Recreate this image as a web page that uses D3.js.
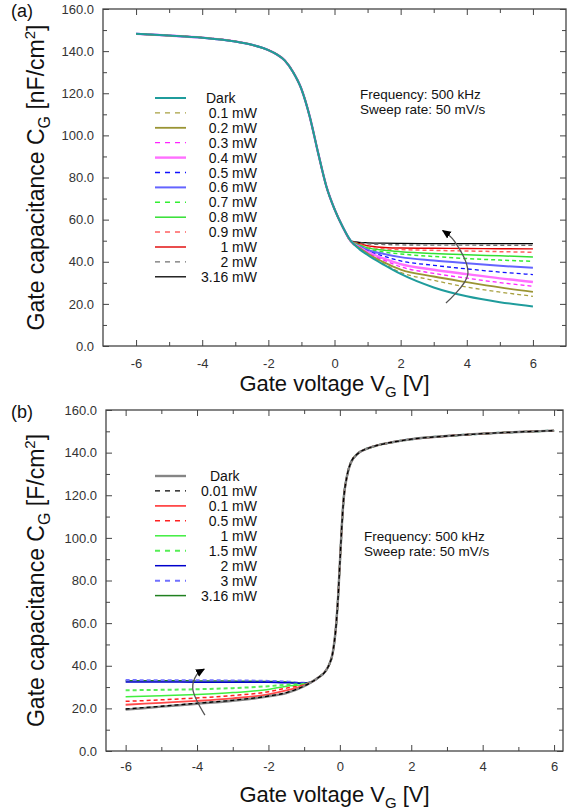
<!DOCTYPE html>
<html><head><meta charset="utf-8">
<script src="https://cdn.jsdelivr.net/npm/d3@7"></script>
<style>
body{margin:0;background:#fff;}
svg{display:block;font-family:"Liberation Sans",Arial,sans-serif;}
</style></head>
<body><svg id="c" width="582" height="810"></svg>
<script>
// ---------- Panel (a) data ----------
const aLabels = ["Dark","0.1 mW","0.2 mW","0.3 mW","0.4 mW","0.5 mW","0.6 mW","0.7 mW","0.8 mW","0.9 mW","1 mW","2 mW","3.16 mW"];
const aColors = ["#1f9c9c","#a8a040","#9a9433","#ff22ff","#ff70ff","#1010ff","#6464ff","#33ee33","#33e033","#ff6060","#e00000","#707070","#000000"];
const aDashed = [false,true,false,true,false,true,false,true,false,true,false,true,false];
const aWidths = [2,1.3,1.8,1.3,2.4,1.3,2,1.5,1.5,1.5,1.4,1.4,1.3];
// shared left branch (all powers coincide)
const aXLeft = [-6,-5,-4,-3,-2.5,-2,-1.75,-1.5,-1.25,-1,-0.75,-0.5,-0.25,0,0.25];
const aCLeft = [148.2,147.4,146.4,144.6,143,140.5,138.5,135.5,130,122,109,92,76,65,56.5];
// right branch per series
const aXRight = [0.5,0.75,1,1.5,2,3,4,5,6];
const aDark  = [49.8,46.0,43.2,38.5,34.2,27.8,23.6,20.8,18.8];
const a01mW  = [49.6,46.5,43.6,39.0,35.0,31.2,28.0,25.6,23.6];
const a02mW  = [49.6,46.6,43.9,39.7,36.3,33.0,30.3,27.8,25.7];
const a03mW  = [49.6,46.8,44.2,40.7,37.6,34.5,32.2,30.1,28.4];
const a04mW  = [49.6,46.9,44.6,41.5,38.9,36.2,34.1,32.1,30.4];
const a05mW  = [49.7,47.1,45.1,42.6,40.4,38.3,36.6,35.1,33.9];
const a06mW  = [49.7,47.4,45.6,43.7,42.2,40.6,39.3,38.1,37.1];
const a07mW  = [49.7,47.7,46.1,44.6,43.7,42.5,41.5,40.8,40.2];
const a08mW  = [49.8,48.0,46.6,45.5,44.8,43.9,43.3,42.8,42.3];
const a09mW  = [49.8,48.3,47.1,46.2,45.8,45.4,45.1,44.8,44.5];
const a1mW   = [49.8,48.6,47.6,46.8,46.5,46.4,46.3,46.2,46.1];
const a2mW   = [49.8,49.0,48.5,48.2,48.0,47.9,47.9,47.8,47.8];
const a316mW = [49.8,49.2,49.0,48.8,48.7,48.6,48.6,48.6,48.6];
const aRight = [aDark,a01mW,a02mW,a03mW,a04mW,a05mW,a06mW,a07mW,a08mW,a09mW,a1mW,a2mW,a316mW];

// ---------- Panel (b) data ----------
const bLabels = ["Dark","0.01 mW","0.1 mW","0.5 mW","1 mW","1.5 mW","2 mW","3 mW","3.16 mW"];
const bColors = ["#858585","#000000","#ff4a4a","#ff2020","#40ee40","#55ee55","#0000cc","#7070ff","#208020"];
const bDashed = [false,true,false,true,false,true,false,true,false];
const bWidths = [2.4,1.3,1.8,1.5,1.5,2,1.5,2,1.5];
const bXLeft = [-6,-5,-4,-3,-2,-1.5,-1];
const bDark  = [19.4,20.8,22.2,23.6,25.6,27.2,30.4];
const b001mW = [19.7,21.0,22.4,23.8,25.8,27.4,30.5];
const b01mW  = [21.7,22.6,23.5,24.7,26.6,28.4,30.8];
const b05mW  = [23.3,24.0,24.9,26.0,27.8,29.5,31.1];
const b1mW   = [25.4,25.9,26.5,27.4,28.9,30.4,31.3];
const b15mW  = [28.5,28.7,29.0,29.5,30.4,31.1,31.5];
const b2mW   = [32.4,32.4,32.3,32.3,32.2,32.0,31.8];
const b3mW   = [33.3,33.2,33.2,33.1,32.9,32.6,32.0];
const b316mW = [33.0,33.0,32.9,32.8,32.6,32.4,31.9];
const bLeft = [bDark,b001mW,b01mW,b05mW,b1mW,b15mW,b2mW,b3mW,b316mW];
// shared right branch
const bXRight = [-0.8,-0.6,-0.4,-0.3,-0.2,-0.1,-0.05,0,0.05,0.1,0.2,0.3,0.5,0.75,1,1.5,2,3,4,5,6];
const bCRight = [32.3,34.5,37.5,40.5,46,60,72,88,104,117,129,135,139.5,141.8,143.2,145,146.3,147.8,148.9,149.7,150.3];

// ticks
const yMajor = [0,20,40,60,80,100,120,140,160];
const yMinor = [10,30,50,70,90,110,130,150];
const xMajor = [-6,-4,-2,0,2,4,6];
const xMinor = [-5,-3,-1,1,3,5];

// annotation arrows (data coordinates)
const aArrow = [[3.37,20.4],[4.03,33.9],[3.63,49.7],[3.27,54.8]];
const bArrow = [[-3.78,16.8],[-4.12,29.2],[-4.02,35.5],[-3.80,38.4]];

const svg = d3.select("#c");
const defs = svg.append("defs");
defs.append("marker").attr("id","ah").attr("viewBox","0 0 10 10").attr("refX",9).attr("refY",5)
  .attr("markerWidth",9).attr("markerHeight",9).attr("markerUnits","userSpaceOnUse").attr("orient","auto")
  .append("path").attr("d","M0,0.5 L10,5 L0,9.5 Z").attr("fill","#000");

function panel(cfg){
  const g = svg.append("g");
  const x = d3.scaleLinear().domain(cfg.xd).range([cfg.l,cfg.r]);
  const y = d3.scaleLinear().domain([0,160]).range([cfg.b,cfg.t]);
  const fmt = d3.format(".1f");
  function ax(gen, tr, vals, size, labels, pad){
    const a = g.append("g").attr("transform",tr)
      .call(gen.tickValues(vals).tickSize(-size).tickPadding(pad||8)
        .tickFormat(labels ? labels : ""));
    a.select(".domain").remove();
    a.selectAll("line").attr("stroke","#444").attr("stroke-width",1);
    a.selectAll("text").attr("fill","#333").style("font-size","13px").style("font-family","'Liberation Sans',Arial,sans-serif");
    return a;
  }
  const H = cfg.b-cfg.t, W = cfg.r-cfg.l;
  ax(d3.axisBottom(x), `translate(0,${cfg.b})`, xMajor, 6, d=>d, cfg.xPad);
  ax(d3.axisBottom(x), `translate(0,${cfg.b})`, xMinor, 4, null);
  ax(d3.axisTop(x), `translate(0,${cfg.t})`, xMajor, 6, null);
  ax(d3.axisTop(x), `translate(0,${cfg.t})`, xMinor, 4, null);
  ax(d3.axisLeft(y), `translate(${cfg.l},0)`, yMajor, 6, fmt, 9);
  ax(d3.axisLeft(y), `translate(${cfg.l},0)`, yMinor, 4, null);
  ax(d3.axisRight(y), `translate(${cfg.r},0)`, yMajor, 6, null);
  ax(d3.axisRight(y), `translate(${cfg.r},0)`, yMinor, 4, null);
  g.append("rect").attr("x",cfg.l).attr("y",cfg.t).attr("width",W).attr("height",H)
    .attr("fill","none").attr("stroke","#444").attr("stroke-width",1.3);

  // curves
  const line = d3.line().x(d=>x(d[0])).y(d=>y(d[1])).curve(d3.curveMonotoneX);
  const cg = g.append("g");
  cfg.order.forEach(i=>{
    cg.append("path").attr("d",line(cfg.series[i])).attr("fill","none")
      .attr("stroke",cfg.colors[i]).attr("stroke-width",cfg.widths[i])
      .attr("stroke-dasharray",cfg.dashed[i]?"4,3":null);
  });

  // arrow
  const al = d3.line().x(d=>x(d[0])).y(d=>y(d[1])).curve(d3.curveCatmullRom);
  g.append("path").attr("d",al(cfg.arrow)).attr("fill","none").attr("stroke","#555")
    .attr("stroke-width",1.3).attr("marker-end","url(#ah)");

  // legend
  const lg = g.append("g");
  cfg.labels.forEach((lab,i)=>{
    const yy = cfg.legY + i*cfg.legDY;
    lg.append("line").attr("x1",155).attr("x2",186).attr("y1",yy).attr("y2",yy)
      .attr("stroke",cfg.colors[i]).attr("stroke-width",cfg.widths[i])
      .attr("stroke-dasharray",cfg.dashed[i]?"5,5":null);
    lg.append("text").attr("x", i===0 ? cfg.darkX : 257).attr("y",yy+5)
      .attr("text-anchor", i===0 ? "start" : "end")
      .style("font-size","14px").attr("fill","#111").text(lab);
  });

  // annotation text
  g.append("text").attr("x",cfg.annX).attr("y",cfg.annY).style("font-size","13.5px").attr("fill","#111")
    .text("Frequency: 500 kHz");
  g.append("text").attr("x",cfg.annX).attr("y",cfg.annY+14.5).style("font-size","13.5px").attr("fill","#111")
    .text("Sweep rate: 50 mV/s");

  // panel label
  g.append("text").attr("x",11).attr("y",cfg.t+8).style("font-size","18px").attr("fill","#111").text(cfg.tag);

  // axis titles
  const xt = g.append("text").attr("x",(cfg.l+cfg.r)/2).attr("y",cfg.b+cfg.xtDy)
    .attr("text-anchor","middle").style("font-size","22px").attr("fill","#111");
  xt.append("tspan").text("Gate voltage V");
  xt.append("tspan").attr("dy",6).style("font-size","15px").text("G");
  xt.append("tspan").attr("dy",-6).text(" [V]");

  const cy = (cfg.t+cfg.b)/2;
  const yt = g.append("text").attr("transform",`translate(44,${cy}) rotate(-90)`)
    .attr("text-anchor","middle").style("font-size","23px").attr("fill","#111");
  yt.append("tspan").text("Gate capacitance C");
  yt.append("tspan").attr("dy",6).style("font-size","16px").text("G");
  yt.append("tspan").attr("dy",-6).text(" [" + cfg.unit + "/cm");
  yt.append("tspan").attr("dy",-9).style("font-size","15px").text("2");
  yt.append("tspan").attr("dy",9).text("]");
}

// build series for (a)
const aSeries = aRight.map(r => aXLeft.map((xv,j)=>[xv,aCLeft[j]]).concat(aXRight.map((xv,j)=>[xv,r[j]])));
// build series for (b)
const bSeries = bLeft.map(l => bXLeft.map((xv,j)=>[xv,l[j]]).concat(bXRight.map((xv,j)=>[xv,bCRight[j]])));

panel({xd:[-7,7], l:103, r:566, t:9, b:346, series:aSeries, colors:aColors, dashed:aDashed, widths:aWidths,
  order:[12,11,10,9,8,7,6,5,4,3,2,1,0], labels:aLabels, legY:98, legDY:14.9, darkX:206,
  annX:360, annY:99, arrow:aArrow, tag:"(a)", unit:"nF", xPad:13, xtDy:45});

panel({xd:[-6.55,6.25], l:106, r:563, t:410, b:751, series:bSeries, colors:bColors, dashed:bDashed, widths:bWidths,
  order:[8,7,6,5,4,3,2,0,1], labels:bLabels, legY:476, legDY:14.95, darkX:210,
  annX:364, annY:541, arrow:bArrow, tag:"(b)", unit:"F", xPad:11, xtDy:51});
</script></body></html>
